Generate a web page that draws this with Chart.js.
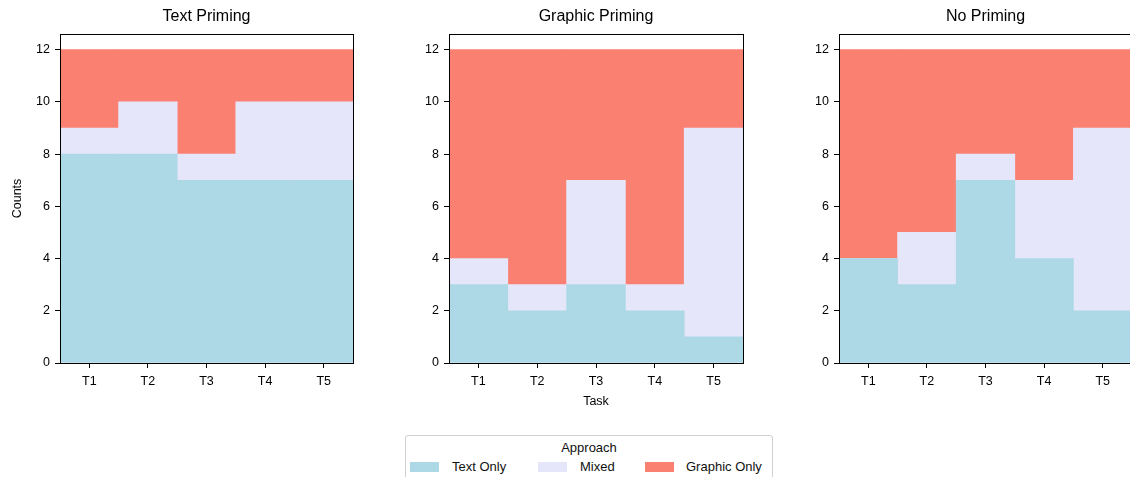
<!DOCTYPE html>
<html>
<head>
<meta charset="utf-8">
<script src="https://cdn.jsdelivr.net/npm/chart.js@4"></script>
<style>
  body { margin: 0; background: #fff; width: 1130px; height: 477px; overflow: hidden; position: relative; font-family: "Liberation Sans", Arial, sans-serif; }
  .panel { position: absolute; top: 0; height: 413px; }
  #legend { position: absolute; left: 405px; top: 435px; width: 366px; height: 60px; border: 1px solid #d0d0d0; border-radius: 3px; color: #111; font-size: 13px; }
  #legend .ttl { position: absolute; top: 4px; left: 0; width: 100%; text-align: center; }
  #legend .sw { position: absolute; top: 26px; width: 29px; height: 10px; }
  #legend .lb { position: absolute; top: 23px; }
</style>
</head>
<body>
<div class="panel" id="p1" style="left:0px;width:355px"><canvas id="c1"></canvas></div>
<div class="panel" id="p2" style="left:409px;width:336px"><canvas id="c2"></canvas></div>
<div class="panel" id="p3" style="left:799px;width:335px"><canvas id="c3"></canvas></div>
<div id="legend">
  <div class="ttl">Approach</div>
  <div class="sw" style="left:4px;background:#add8e6"></div><div class="lb" style="left:46px">Text Only</div>
  <div class="sw" style="left:132px;background:#e6e6fa"></div><div class="lb" style="left:174px">Mixed</div>
  <div class="sw" style="left:239px;background:#fa8072"></div><div class="lb" style="left:280px">Graphic Only</div>
</div>
<script>
const tareas = ["T1", "T2", "T3", "T4", "T5"];
const enfoques = ["Text Only", "Mixed", "Graphic Only"];
const colores = ["#add8e6", "#e6e6fa", "#fa8072"];
const yTicks = [0, 2, 4, 6, 8, 10, 12];

// Text Priming
const textoTexto = [8, 8, 7, 7, 7];
const textoMixto = [1, 2, 1, 3, 3];
const textoGrafico = [3, 2, 4, 2, 2];
// Graphic Priming
const graficoTexto = [3, 2, 3, 2, 1];
const graficoMixto = [1, 1, 4, 1, 8];
const graficoGrafico = [8, 9, 5, 9, 3];
// No Priming
const ningunoTexto = [4, 3, 7, 4, 2];
const ningunoMixto = [0, 2, 1, 3, 7];
const ningunoGrafico = [8, 7, 4, 5, 3];

const fuente = "Liberation Sans";

// caja negra alrededor del area y titulo centrado sobre ella
const marco = {
  id: "marco",
  afterDraw(chart, args, opts) {
    const a = chart.chartArea, ctx = chart.ctx;
    ctx.save();
    ctx.strokeStyle = "#000";
    ctx.lineWidth = 1;
    ctx.strokeRect(Math.round(a.left) + 0.5, Math.round(a.top) + 0.5, Math.round(a.right - a.left), Math.round(a.bottom - a.top));
    ctx.fillStyle = "#000";
    ctx.font = "16px '" + fuente + "'";
    ctx.textAlign = "center";
    ctx.textBaseline = "alphabetic";
    ctx.fillText(opts.texto, (a.left + a.right) / 2, 21);
    ctx.restore();
  }
};

function panel(id, titulo, series, ancho, yTitulo, xTitulo) {
  new Chart(document.getElementById(id), {
    type: "bar",
    data: {
      labels: tareas,
      datasets: series.map((d, i) => ({
        label: enfoques[i],
        data: d,
        backgroundColor: colores[i],
        borderWidth: 0,
        barPercentage: 1,
        categoryPercentage: 1,
      })),
    },
    options: {
      responsive: true,
      maintainAspectRatio: false,
      animation: false,
      layout: { padding: { top: 34, left: 0, right: 2, bottom: 0 } },
      plugins: {
        legend: { display: false },
        tooltip: { enabled: false },
        marco: { texto: titulo },
      },
      scales: {
        x: {
          stacked: true,
          border: { display: false },
          grid: { offset: false, drawOnChartArea: false, drawTicks: true, tickLength: 5, color: "#000" },
          ticks: { color: "#000", padding: 6, font: { family: fuente, size: 12.5 } },
          title: { display: !!xTitulo, text: xTitulo || "", color: "#000", padding: { top: 2 }, font: { family: fuente, size: 12.5 } },
          afterFit: (s) => { s.height = 50; },
        },
        y: {
          stacked: true,
          min: 0,
          max: 12.6,
          border: { display: false },
          grid: { drawOnChartArea: false, drawTicks: true, tickLength: 5, color: "#000" },
          ticks: { color: "#000", padding: 5, font: { family: fuente, size: 12.5 } },
          afterBuildTicks: (s) => { s.ticks = yTicks.map((v) => ({ value: v })); },
          title: { display: !!yTitulo, text: yTitulo || "", color: "#000", padding: { top: 10, bottom: 0 }, font: { family: fuente, size: 12.5 } },
          afterFit: (s) => { s.width = ancho; },
        },
      },
    },
    plugins: [marco],
  });
}

panel("c1", "Text Priming", [textoTexto, textoMixto, textoGrafico], 60, "Counts", null);
panel("c2", "Graphic Priming", [graficoTexto, graficoMixto, graficoGrafico], 40, null, "Task");
panel("c3", "No Priming", [ningunoTexto, ningunoMixto, ningunoGrafico], 40, null, null);
</script>
</body>
</html>
